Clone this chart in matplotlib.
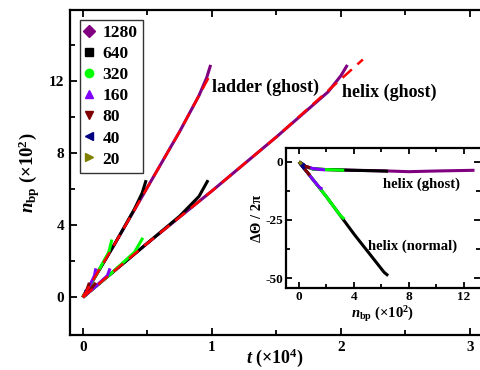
import matplotlib
matplotlib.use("Agg")
import matplotlib.pyplot as plt
from matplotlib.lines import Line2D
from matplotlib.ticker import FixedLocator

plt.rcParams['font.family'] = ['Liberation Serif', 'DejaVu Serif']
plt.rcParams['font.weight'] = 'bold'
plt.rcParams['mathtext.fontset'] = 'custom'
plt.rcParams['mathtext.rm'] = 'Liberation Serif:bold'
plt.rcParams['mathtext.bf'] = 'Liberation Serif:bold'
plt.rcParams['mathtext.it'] = 'Liberation Serif:bold:italic'
plt.rcParams['axes.unicode_minus'] = False

# ---------------- data ----------------
sizes = ['1280', '640', '320', '160', '80', '40', '20']
colors = ['#800080', '#000000', '#00ff00', '#8000ff', '#800000', '#000080', '#808000']
markers = ['D', 's', 'o', '^', 'v', '<', '>']

# main panel: t (x10^4) vs n_bp (x10^2), ladder branch
ladder_t = [
    [0, 0.25, 0.5, 0.75, 0.9, 0.96, 0.99],
    [0, 0.1, 0.25, 0.4, 0.46, 0.49],
    [0, 0.1, 0.2, 0.225],
    [0, 0.05, 0.09, 0.1],
    [0, 0.03, 0.05],
    [0, 0.02, 0.025],
    [0, 0.012],
]
ladder_n = [
    [0, 3.0, 6.1, 9.2, 11.2, 12.2, 12.9],
    [0, 1.2, 3.0, 4.9, 5.8, 6.5],
    [0, 1.2, 2.5, 3.2],
    [0, 0.6, 1.2, 1.6],
    [0, 0.4, 0.8],
    [0, 0.25, 0.4],
    [0, 0.2],
]
# helix branch
helix_t = [
    [0, 0.5, 1.0, 1.5, 1.9, 2.0, 2.05],
    [0, 0.25, 0.5, 0.75, 0.9, 0.97],
    [0, 0.2, 0.4, 0.465],
    [0, 0.1, 0.19, 0.21],
    [0, 0.05, 0.1],
    [0, 0.03, 0.05],
    [0, 0.02],
]
helix_n = [
    [0, 3.0, 5.9, 8.9, 11.4, 12.3, 12.9],
    [0, 1.5, 3.0, 4.5, 5.6, 6.5],
    [0, 1.2, 2.5, 3.3],
    [0, 0.6, 1.2, 1.6],
    [0, 0.35, 0.8],
    [0, 0.2, 0.4],
    [0, 0.15],
]
# fits (red dashed)
fit_ladder_t = [0, 0.25, 0.5, 0.75, 0.99]
fit_ladder_n = [0, 3.0, 6.1, 9.2, 12.4]
fit_helix_t = [0, 0.5, 1.0, 1.5, 2.17]
fit_helix_n = [0, 3.0, 5.9, 8.9, 13.2]

# inset: n_bp (x10^2) vs DeltaTheta/2pi
ghost_n = [
    [0, 0.5, 1, 2, 4, 6, 8, 10, 12.8],
    [0, 0.5, 1, 2, 4, 6, 6.5],
    [0, 0.5, 1, 2, 3, 3.3],
    [0, 0.5, 1, 1.6, 1.9],
    [0, 0.4, 0.8],
    [0, 0.3, 0.4],
    [0, 0.2],
]
ghost_th = [
    [0, -2, -3, -3.3, -3.6, -3.8, -4.2, -3.9, -3.6],
    [0, -2, -3, -3.3, -3.6, -3.9, -4.0],
    [0, -2, -3, -3.3, -3.5, -3.6],
    [0, -2, -2.8, -3.3, -3.4],
    [0, -1.8, -2.5],
    [0, -1.0, -1.5],
    [0, -0.8],
]
normal_n = [
    [],
    [0, 1, 2, 3, 4, 5, 5.8, 6.2, 6.5],
    [0, 1, 2, 3, 3.3],
    [0, 0.5, 1, 1.5, 1.7],
    [0, 0.4, 0.8],
    [0, 0.2, 0.4],
    [0, 0.2],
]
normal_th = [
    [],
    [0, -7.5, -15, -23, -31, -38.5, -44.5, -47.5, -49],
    [0, -7.5, -15, -23, -24.6],
    [0, -3.8, -7.5, -11, -11.7],
    [0, -3, -5.8],
    [0, -1.5, -3],
    [0, -1],
]

# ---------------- figure ----------------
W, H = 480, 370
fig = plt.figure(figsize=(4.8, 3.7), dpi=100)

def fr(x0, y0, x1, y1):
    return [x0 / W, 1 - y1 / H, (x1 - x0) / W, (y1 - y0) / H]

def ftext(x, y, s, size):
    fig.text(x / W, 1 - y / H, s, fontsize=size, fontweight='bold', va='center', ha='left')

ax = fig.add_axes(fr(70, 10, 480, 335))
lw = 2.2
for i in range(len(sizes)):
    ax.plot(ladder_t[i], ladder_n[i], color=colors[i], lw=lw, solid_capstyle='butt')
    ax.plot(helix_t[i], helix_n[i], color=colors[i], lw=lw, solid_capstyle='butt')
ax.plot(fit_ladder_t, fit_ladder_n, color='#ff0000', lw=1.8, ls=(0, (5, 3)), zorder=5)
ax.plot(fit_helix_t, fit_helix_n, color='#ff0000', lw=1.8, ls=(0, (5, 3)), zorder=5)

ax.set_xlim(-0.1, 3.078)
ax.set_ylim(-2.1, 15.95)
ax.xaxis.set_major_locator(FixedLocator([0, 1, 2, 3]))
ax.xaxis.set_minor_locator(FixedLocator([0.5, 1.5, 2.5]))
ax.yaxis.set_major_locator(FixedLocator([0, 4, 8, 12]))
ax.yaxis.set_minor_locator(FixedLocator([2, 6, 10, 14]))
ax.spines['right'].set_visible(False)
for s in ['left', 'top', 'bottom']:
    ax.spines[s].set_linewidth(1.6)
ax.tick_params(which='both', direction='in', top=True, right=False, width=1.3, labelsize=11, pad=4)
ax.tick_params(which='major', length=5)
ax.tick_params(which='minor', length=3.5)
for lab in ax.get_xticklabels() + ax.get_yticklabels():
    lab.set_fontweight('bold')
ax.set_xlabel(r'$t$ (×10$^{4}$)', fontsize=13, fontweight='bold', labelpad=-5)
ax.set_ylabel(r'$n_{\mathrm{bp}}$ (×10$^{2}$)', fontsize=13.5, fontweight='bold', labelpad=5)

handles = [Line2D([], [], color=c, marker=m, ls='none', markersize=6) for c, m in zip(colors, markers)]
leg = ax.legend(handles, sizes, loc='upper left', bbox_to_anchor=(0.024, 0.969), borderaxespad=0,
                frameon=True, fancybox=False, edgecolor='black', handlelength=0.5, handletextpad=0.5,
                labelspacing=0.28, borderpad=0.3, prop={'size': 12.5, 'weight': 'bold'})
leg.get_frame().set_linewidth(1.0)

ftext(212, 87, 'ladder (ghost)', 13)
ftext(342, 92, 'helix (ghost)', 13)

# ---------------- inset ----------------
ins = fig.add_axes(fr(286, 148, 480, 288))
ins.set_facecolor('white')
for i in range(len(sizes)):
    ins.plot(ghost_n[i], ghost_th[i], color=colors[i], lw=lw, solid_capstyle='butt')
    if normal_n[i]:
        ins.plot(normal_n[i], normal_th[i], color=colors[i], lw=lw, solid_capstyle='butt')
ins.set_xlim(-0.95, 13.2)
ins.set_ylim(-54.3, 6.0)
ins.xaxis.set_major_locator(FixedLocator([0, 4, 8, 12]))
ins.xaxis.set_minor_locator(FixedLocator([2, 6, 10]))
ins.yaxis.set_major_locator(FixedLocator([0, -25, -50]))
ins.yaxis.set_minor_locator(FixedLocator([-12.5, -37.5]))
ins.spines['right'].set_visible(False)
for s in ['left', 'top', 'bottom']:
    ins.spines[s].set_linewidth(1.6)
ins.tick_params(which='both', direction='in', top=True, right=True, width=1.3, labelsize=9.5, pad=2)
ins.tick_params(which='major', length=4)
ins.tick_params(which='minor', length=3)
ins.set_yticklabels(['0', '-25', '-50'])
for lab in ins.get_xticklabels() + ins.get_yticklabels():
    lab.set_fontweight('bold')
ins.set_xlabel(r'$n_{\mathrm{bp}}$ (×10$^{2}$)', fontsize=10.5, fontweight='bold', labelpad=1)
ins.set_ylabel('ΔΘ / 2π', fontsize=10.5, fontweight='bold', labelpad=1)
ftext(383, 184, 'helix (ghost)', 10.5)
ftext(368, 246, 'helix (normal)', 10.5)

fig.savefig('out.png', dpi=100)
